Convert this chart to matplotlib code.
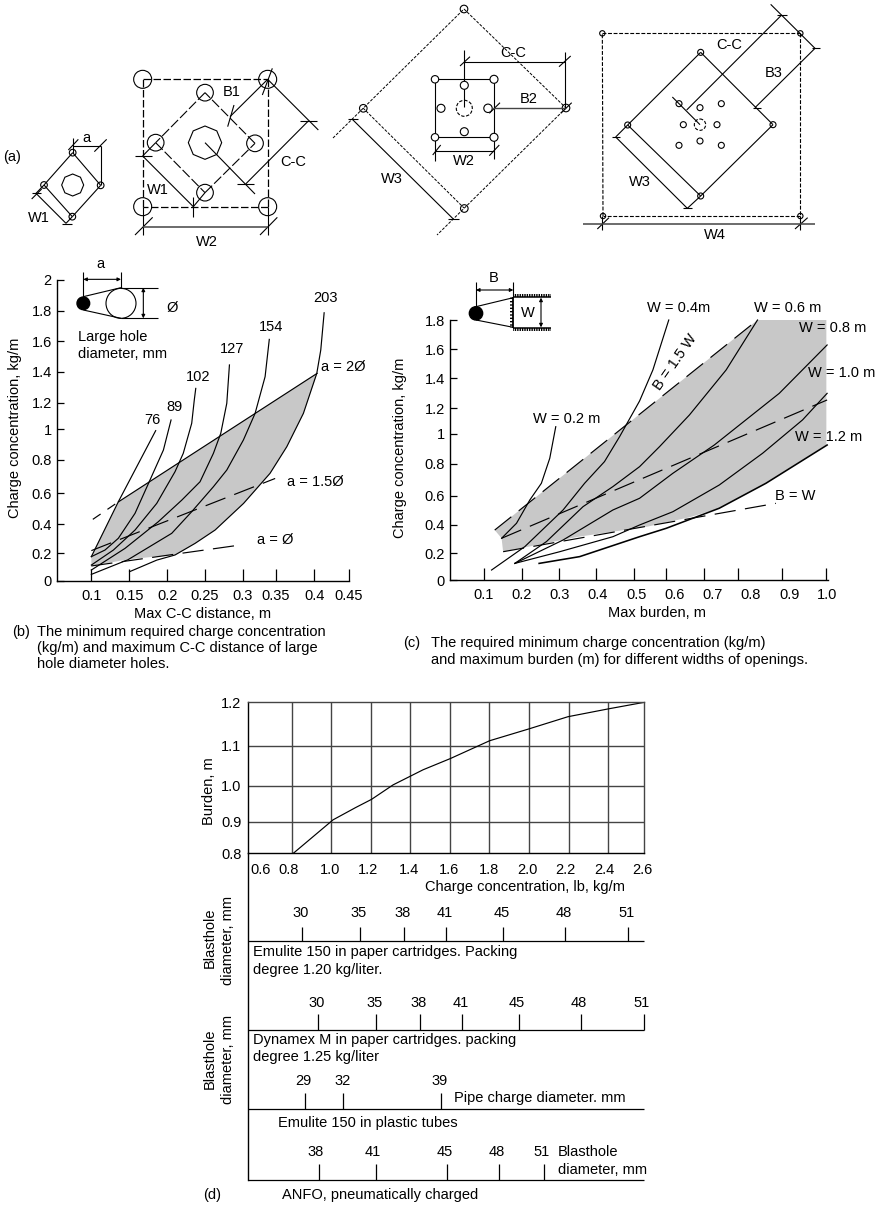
import numpy as np
import matplotlib
matplotlib.use("Agg")
import matplotlib.pyplot as plt
from matplotlib.patches import Circle, Polygon, Rectangle

plt.rcParams['font.family'] = ['Liberation Sans', 'DejaVu Sans']
plt.rcParams['font.size'] = 10.5

W_PX, H_PX = 888, 1205
GREY = '#c8c8c8'
LONG_DASH = (0, (18, 8))

# ------------------ chart (b) ------------------
b_tick_x = [0.1, 0.1517, 0.203, 0.2546, 0.3059, 0.3508, 0.4029, 0.45]
b_tick_x_labels = ['0.1', '0.15', '0.2', '0.25', '0.3', '0.35', '0.4', '0.45']
b_tick_y = [2.0, 1.796, 1.594, 1.39, 1.184, 1.007, 0.803, 0.581, 0.377, 0.182, 0]
b_tick_y_labels = ['2', '1.8', '1.6', '1.4', '1.2', '1', '0.8', '0.6', '0.4', '0.2', '0']

b_76_x = [0.1, 0.1367, 0.1875]
b_76_y = [0.16, 0.525, 0.998]
b_89_x = [0.1, 0.1186, 0.1367, 0.1594, 0.1798, 0.198, 0.2084]
b_89_y = [0.16, 0.204, 0.282, 0.448, 0.67, 0.869, 1.069]
b_102_x = [0.1, 0.13, 0.1594, 0.1889, 0.2138, 0.225, 0.2365, 0.24, 0.242]
b_102_y = [0.104, 0.204, 0.337, 0.514, 0.725, 0.847, 1.047, 1.202, 1.279]
b_127_x = [0.1, 0.1458, 0.191, 0.223, 0.2478, 0.266, 0.276, 0.2842, 0.2878]
b_127_y = [0.071, 0.215, 0.392, 0.536, 0.658, 0.847, 0.98, 1.18, 1.435]
b_154_x = [0.1, 0.15, 0.2093, 0.2365, 0.266, 0.2842, 0.3068, 0.3227, 0.3363, 0.342]
b_154_y = [0.042, 0.14, 0.315, 0.459, 0.625, 0.736, 0.936, 1.113, 1.357, 1.605]
b_203_x = [0.152, 0.189, 0.2138, 0.241, 0.2683, 0.307, 0.343, 0.3658, 0.3884, 0.4066, 0.412, 0.4166]
b_203_y = [0.06, 0.137, 0.171, 0.248, 0.337, 0.514, 0.714, 0.891, 1.113, 1.379, 1.534, 1.782]
b_2d_dash_x = [0.102, 0.137]
b_2d_dash_y = [0.408, 0.525]
b_2d_x = [0.137, 0.407]
b_2d_y = [0.525, 1.379]
b_15d_x = [0.1, 0.35]
b_15d_y = [0.2, 0.68]
b_1d_x = [0.1, 0.302]
b_1d_y = [0.098, 0.237]
b_shade_x = [0.1, 0.137, 0.407, 0.3884, 0.3658, 0.343, 0.307, 0.2683, 0.241, 0.2138, 0.1866, 0.15, 0.1]
b_shade_y = [0.16, 0.525, 1.379, 1.113, 0.891, 0.714, 0.514, 0.337, 0.248, 0.171, 0.16, 0.142, 0.098]

# ------------------ chart (c) ------------------
c_label_x = [0.1, 0.2, 0.3, 0.4, 0.5, 0.6, 0.7, 0.8, 0.9, 1.0]
c_label_txt = ['0.1', '0.2', '0.3', '0.4', '0.5', '0.6', '0.7', '0.8', '0.9', '1.0']
c_tick_x = [0.102, 0.202, 0.297, 0.396, 0.493, 0.578, 0.678, 0.767, 0.88, 0.997]
c_tick_y = [1.801, 1.6, 1.397, 1.189, 1.012, 0.806, 0.584, 0.381, 0.185, 0]
c_tick_y_labels = ['1.8', '1.6', '1.4', '1.2', '1', '0.8', '0.6', '0.4', '0.2', '0']

c_w02_x = [0.148, 0.187, 0.2217, 0.252, 0.2739, 0.2896]
c_w02_y = [0.289, 0.393, 0.554, 0.67, 0.843, 1.062]
c_w04_x = [0.1217, 0.2087, 0.3087, 0.365, 0.417, 0.4565, 0.5087, 0.5435, 0.585]
c_w04_y = [0.069, 0.231, 0.485, 0.67, 0.82, 0.993, 1.24, 1.455, 1.801]
c_w06_x = [0.1826, 0.2652, 0.3609, 0.439, 0.5087, 0.561, 0.639, 0.735, 0.817]
c_w06_y = [0.115, 0.266, 0.508, 0.647, 0.785, 0.924, 1.143, 1.455, 1.801]
c_w08_x = [0.1826, 0.3087, 0.439, 0.5087, 0.5957, 0.704, 0.8739, 0.999]
c_w08_y = [0.115, 0.277, 0.485, 0.566, 0.739, 0.935, 1.293, 1.628]
c_w10_x = [0.1826, 0.3, 0.439, 0.5087, 0.5957, 0.717, 0.8304, 0.9348, 0.999]
c_w10_y = [0.115, 0.196, 0.3, 0.381, 0.473, 0.658, 0.878, 1.109, 1.293]
c_w12_x = [0.2461, 0.3522, 0.5087, 0.5783, 0.717, 0.8391, 0.999]
c_w12_y = [0.115, 0.162, 0.3, 0.358, 0.497, 0.67, 0.935]
c_b15_x = [0.13, 0.817]
c_b15_y = [0.346, 1.801]
c_mid_x = [0.148, 0.999]
c_mid_y = [0.289, 1.247]
c_bw_x = [0.152, 0.8652]
c_bw_y = [0.196, 0.531]
c_shade_x = [0.13, 0.817, 0.997, 0.997, 0.8391, 0.717, 0.64, 0.53, 0.35, 0.152, 0.148]
c_shade_y = [0.346, 1.801, 1.801, 0.935, 0.67, 0.497, 0.435, 0.37, 0.30, 0.196, 0.289]

# ------------------ chart (d) ------------------
d_grid_x = [0.8, 1.0, 1.203, 1.404, 1.609, 1.809, 2.012, 2.213, 2.417]
d_grid_y = [0.9, 1.0, 1.1]
d_label_x = [0.64, 0.783, 0.994, 1.19, 1.399, 1.603, 1.806, 2.002, 2.199, 2.398, 2.591]
d_label_txt = ['0.6', '0.8', '1.0', '1.2', '1.4', '1.6', '1.8', '2.0', '2.2', '2.4', '2.6']
d_ticks_y = [0.8, 0.9, 1.0, 1.1, 1.2]
d_ticks_y_labels = ['0.8', '0.9', '1.0', '1.1', '1.2']
d_warp_val = [0.8, 0.9, 1.0, 1.1, 1.2]       # gridlines are unevenly spaced on the original
d_warp_pos = [0.0, 95.0, 203.0, 322.0, 453.0]
d_curve_x = [0.807, 1.01, 1.125, 1.207, 1.317, 1.47, 1.608, 1.81, 2.01, 2.21, 2.417, 2.6]
d_curve_y = [0.8, 0.905, 0.939, 0.962, 1.002, 1.04, 1.068, 1.112, 1.139, 1.167, 1.185, 1.2]

# diameter scales under (d), placed on the charge concentration axis
s1_x = [0.853, 1.149, 1.374, 1.588, 1.879, 2.197, 2.517]
s1_lab = ['30', '35', '38', '41', '45', '48', '51']
s2_x = [0.934, 1.231, 1.455, 1.670, 1.961, 2.277, 2.597]
s2_lab = ['30', '35', '38', '41', '45', '48', '51']
s3_x = [0.866, 1.062, 1.561]
s3_lab = ['29', '32', '39']
s4_x = [0.936, 1.227, 1.591, 1.859, 2.090]
s4_lab = ['38', '41', '45', '48', '51']


def axes_px(fig, left, top, right, bottom):
    return fig.add_axes([left / W_PX, 1 - bottom / H_PX, (right - left) / W_PX, (bottom - top) / H_PX])


def curve(ax, x, y, lw=0.85, ls='-'):
    ax.plot(x, y, color='black', lw=lw, ls=ls, solid_joinstyle='round')


fig = plt.figure(figsize=(W_PX / 100, H_PX / 100), dpi=100)

# ------------------ (b) ------------------
ax_b = axes_px(fig, 57.3, 280, 348.7, 580.7)
ax_b.set_xlim(0.0537, 0.45)
ax_b.set_ylim(0, 2.0)
ax_b.add_patch(Polygon(np.column_stack((b_shade_x, b_shade_y)), closed=True, fc=GREY, ec='none', zorder=0))
for xs, ys in [(b_76_x, b_76_y), (b_89_x, b_89_y), (b_102_x, b_102_y),
               (b_127_x, b_127_y), (b_154_x, b_154_y), (b_203_x, b_203_y)]:
    curve(ax_b, xs, ys)
curve(ax_b, b_2d_dash_x, b_2d_dash_y, ls=(0, (8, 7)))
curve(ax_b, b_2d_x, b_2d_y)
curve(ax_b, b_15d_x, b_15d_y, ls=LONG_DASH)
curve(ax_b, b_1d_x, b_1d_y, ls=LONG_DASH)
ax_b.set_xticks(b_tick_x, b_tick_x_labels)
ax_b.set_yticks(b_tick_y, b_tick_y_labels)
ax_b.tick_params(axis='x', direction='in', length=8.6, width=0.9, pad=6)
ax_b.tick_params(axis='y', direction='in', length=5, width=0.9, pad=4)

# ------------------ (c) ------------------
ax_c = axes_px(fig, 450.3, 320, 827.5, 580)
ax_c.set_xlim(0.0139, 1.0)
ax_c.set_ylim(0, 1.801)
ax_c.add_patch(Polygon(np.column_stack((c_shade_x, c_shade_y)), closed=True, fc=GREY, ec='none', zorder=0))
for xs, ys in [(c_w02_x, c_w02_y), (c_w04_x, c_w04_y), (c_w06_x, c_w06_y),
               (c_w08_x, c_w08_y), (c_w10_x, c_w10_y)]:
    curve(ax_c, xs, ys)
curve(ax_c, c_w12_x, c_w12_y, lw=1.15)
curve(ax_c, c_b15_x, c_b15_y, ls=LONG_DASH)
curve(ax_c, c_mid_x, c_mid_y, ls=LONG_DASH)
curve(ax_c, c_bw_x, c_bw_y, ls=LONG_DASH)
ax_c.set_xticks(c_label_x, c_label_txt)
ax_c.set_xticks(c_tick_x, minor=True)
ax_c.set_yticks(c_tick_y, c_tick_y_labels)
ax_c.tick_params(axis='x', which='major', length=0, pad=6)
ax_c.tick_params(axis='x', which='minor', direction='in', length=9, width=0.9)
ax_c.tick_params(axis='y', direction='in', length=5, width=0.9, pad=4)

for ax in (ax_b, ax_c):
    ax.patch.set_alpha(0)
    ax.spines['top'].set_visible(False)
    ax.spines['right'].set_visible(False)
    for sp in ('left', 'bottom'):
        ax.spines[sp].set_linewidth(1.0)
    for art in ax.lines:
        art.set_clip_on(False)

# ------------------ (d) top ------------------
ax_d = axes_px(fig, 248.3, 702.3, 644.3, 853.3)
ax_d.set_yscale('function', functions=(lambda v: np.interp(v, d_warp_val, d_warp_pos),
                                       lambda p: np.interp(p, d_warp_pos, d_warp_val)))
ax_d.set_xlim(0.577, 2.6)
ax_d.set_ylim(0.8, 1.2)
ax_d.vlines(d_grid_x, 0.8, 1.2, color='#444444', lw=1.0)
ax_d.hlines(d_grid_y, 0.577, 2.6, color='#444444', lw=1.0)
curve(ax_d, d_curve_x, d_curve_y)
ax_d.set_xticks(d_label_x, d_label_txt)
ax_d.set_yticks(d_ticks_y, d_ticks_y_labels)
ax_d.minorticks_off()
ax_d.tick_params(axis='x', length=0, pad=7)
ax_d.tick_params(axis='y', length=0, pad=5)
for sp in ax_d.spines.values():
    sp.set_linewidth(1.0)
ax_d.spines['top'].set_color('#444444')
ax_d.spines['right'].set_color('#444444')

# ------------------ (d) scales below, y is in page pixels ------------------
ax_s = axes_px(fig, 248.3, 853.3, 644.3, 1180)
ax_s.set_xlim(0.577, 2.6)
ax_s.set_ylim(1180, 853.3)
ax_s.axis('off')
ax_s.axvline(0.577, color='black', lw=1.0, clip_on=False)
strips = [(s1_x, s1_lab, 941.3, 926.7, 913.3, -1.7),
          (s2_x, s2_lab, 1030, 1014.3, 1003.3, -2),
          (s3_x, s3_lab, 1109.3, 1093.3, 1081, -1),
          (s4_x, s4_lab, 1180, 1164.3, 1152, -2.5)]
for xs, labs, base, top, ytxt, dx in strips:
    ax_s.hlines(base, 0.577, 2.6, color='black', lw=0.9, clip_on=False)
    ax_s.vlines(xs, top, base, color='black', lw=0.9, clip_on=False)
    for x, lab in zip(xs, labs):
        ax_s.annotate(lab, (x, ytxt), xytext=(dx * 0.72, 0), textcoords='offset points',
                      ha='center', va='center')

# ------------------ overlay in page pixels: schematics and text ------------------
ov = fig.add_axes([0, 0, 1, 1], zorder=5)
ov.set_xlim(0, W_PX)
ov.set_ylim(H_PX, 0)
ov.axis('off')
ov.patch.set_alpha(0)


def seg(pts, ox=0, oy=0, lw=0.8, ls='-', color='black'):
    """pts are (x0,y0,x1,y1) measured on the 3x crops, ox/oy is the crop origin."""
    for x0, y0, x1, y1 in pts:
        ov.plot([ox + x0 / 3, ox + x1 / 3], [oy + y0 / 3, oy + y1 / 3], color=color, lw=lw, ls=ls,
                solid_capstyle='butt')


def seg_px(pts, lw=0.8, ls='-', color='black'):
    for x0, y0, x1, y1 in pts:
        ov.plot([x0, x1], [y0, y1], color=color, lw=lw, ls=ls, solid_capstyle='butt')


def holes(pts, r, ox=0, oy=0, lw=0.8, ls='-'):
    for x, y in pts:
        ov.add_patch(Circle((ox + x / 3, oy + y / 3), r / 3, fc='none', ec='black', lw=lw, ls=ls))


def octagon(x, y, r, ox=0, oy=0):
    ang = np.radians(np.arange(8) * 45)
    ov.add_patch(Polygon(np.column_stack((ox + x / 3 + r / 3 * np.cos(ang), oy + y / 3 + r / 3 * np.sin(ang))),
                         closed=True, fc='none', ec='black', lw=0.8))


def arrow(x0, y0, x1, y1, ox=0, oy=0):
    ov.annotate('', (ox + x1 / 3, oy + y1 / 3), (ox + x0 / 3, oy + y0 / 3),
                arrowprops=dict(arrowstyle='<|-|>', color='black', lw=0.8, mutation_scale=5,
                                shrinkA=0, shrinkB=0))


def txt(x, y, s, ha='center', **kw):
    ov.text(x, y, s, ha=ha, va='center', **kw)


DASH = (0, (6, 2))
DOT = (0, (3, 1.5))

# small pattern
seg([(218, 458, 132, 555), (132, 555, 217, 650), (217, 650, 302, 556), (302, 556, 218, 458),
     (218, 415, 218, 458), (302, 437, 302, 556), (218, 437, 302, 437),
     (205, 450, 235, 418), (283, 455, 320, 418),
     (108, 580, 198, 670), (95, 597, 125, 567), (95, 580, 122, 580), (185, 672, 215, 672), (198, 670, 217, 650),
     (108, 580, 132, 555)])
holes([(218, 458), (132, 555), (302, 556), (217, 650)], 10)
octagon(218, 555, 33)

# second pattern
seg([(428, 238, 803, 238), (803, 238, 803, 620), (803, 620, 428, 620), (428, 620, 428, 238)], ls=DASH, lw=0.9)
seg([(615, 278, 467, 428), (467, 428, 615, 578), (615, 578, 765, 430), (765, 430, 615, 278)], ls=(0, (9, 2.5)))
holes([(428, 238), (803, 238), (428, 620), (803, 620)], 27)
holes([(615, 278), (467, 428), (765, 430), (615, 578)], 25)
octagon(615, 428, 50)
seg([(428, 468, 580, 620), (405, 468, 455, 468), (580, 590, 580, 650), (467, 428, 428, 468), (615, 578, 580, 620),
     (690, 350, 803, 238), (683, 380, 702, 315), (787, 285, 817, 205),
     (737, 552, 925, 363), (803, 238, 955, 390), (615, 428, 765, 582), (712, 552, 763, 552), (900, 362, 952, 362),
     (428, 620, 428, 705), (803, 620, 803, 705), (405, 705, 458, 652), (780, 705, 832, 652)])
seg([(428, 682, 803, 682)], color='#444444', lw=1.1)

# third pattern
seg_px([(333, 138, 464, 9), (464, 9, 566, 108), (566, 108, 437, 235), (363, 108, 464, 208)], ls=DOT, lw=0.7)
for cx, cy in [(464, 9), (566, 108), (464.3, 208.5), (363.3, 108.3)]:
    ov.add_patch(Circle((cx, cy), 3.8, fc='none', ec='black', lw=0.8))
seg_px([(352.3, 119.3, 453.3, 219), (348, 119, 358, 119), (448, 219, 459, 219),
        (435, 79.3, 494, 79.3), (435, 79.3, 435, 160.7), (435, 137.3, 494, 137.3),
        (494, 79.3, 494, 159), (464.3, 50, 464.3, 107),
        (464.3, 61.7, 565, 61.7), (460, 66, 470, 56.7), (559, 66.7, 570.7, 56),
        (565, 51.7, 565, 108.3), (489.3, 113.3, 500, 102.7), (560.7, 113.3, 571.7, 102.7),
        (435, 150.7, 494, 150.7), (432.7, 155, 440.7, 145), (489.3, 155.7, 499.3, 145)])
seg_px([(493, 108.3, 565, 108.3)], color='#444444', lw=1.0)
for cx, cy, r in [(435, 79.3, 3.7), (494, 79.3, 4), (435, 137.3, 3.7), (494, 137.3, 4),
                  (441, 108.3, 4), (488, 108.3, 4.2), (464.3, 85.3, 4), (464.3, 131.7, 4)]:
    ov.add_patch(Circle((cx, cy), r, fc='white', ec='black', lw=0.8, zorder=3))
ov.add_patch(Circle((464.3, 108.3), 8, fc='none', ec='black', lw=0.8, ls=(0, (3, 1.5)), zorder=3))

# fourth pattern
O4 = 440
seg([(487, 100, 1081, 100), (1081, 100, 1081, 648), (1081, 648, 489, 648), (489, 648, 487, 100)], O4, ls=(0, (3.5, 1.5)), lw=0.8)
holes([(487, 100), (1081, 100), (489, 648), (1081, 648)], 8, O4)
seg([(782, 157, 563, 375), (563, 375, 782, 588), (782, 588, 999, 374), (999, 374, 782, 157)], O4)
holes([(782, 157), (563, 375), (999, 374), (782, 588)], 9, O4)
holes([(717, 311), (780, 323), (844, 311), (730, 374), (831, 374), (717, 436), (780, 423), (844, 436)], 9, O4)
holes([(780, 374)], 17, O4, ls=(0, (3, 1.5)))
seg([(697, 291, 780, 374), (740, 330, 1025, 45), (992, 13, 1125, 145), (1010, 45, 1040, 45),
     (945, 323, 1125, 145), (1115, 145, 1140, 145), (940, 323, 962, 323), (527, 411, 742, 625), (742, 625, 782, 588),
     (527, 411, 563, 375), (515, 411, 540, 411), (730, 625, 755, 625), (472, 687, 507, 653), (1065, 687, 1103, 653),
     (487, 648, 487, 690), (1081, 648, 1081, 690)], O4)
seg([(430, 671, 1125, 671)], O4, color='#444444', lw=1.1)

# schematic labels
txt(11.7, 156.7, '(a)')
txt(86.7, 138, 'a')
txt(39.3, 218.3, 'W1')
txt(158.3, 190, 'W1')
txt(231.7, 91.7, 'B1')
txt(293.3, 162.3, 'C-C')
txt(206.7, 241.7, 'W2')
txt(391.7, 179.3, 'W3')
txt(513.3, 52.7, 'C-C')
txt(528.7, 99, 'B2')
txt(464.3, 161, 'W2')
txt(729.3, 45, 'C-C')
txt(773.3, 72.7, 'B3')
txt(640, 181.7, 'W3')
txt(715, 235, 'W4')

# inset of (b)
OB = 240
seg([(250, 95, 250, 190), (363, 95, 363, 143), (250, 170, 363, 143), (250, 210, 363, 235),
     (363, 143, 475, 143), (363, 235, 475, 235)], 0, OB)
arrow(250, 118, 363, 118, 0, OB)
arrow(430, 143, 430, 235, 0, OB)
holes([(363, 190)], 45, 0, OB)
ov.add_patch(Circle((250 / 3, OB + 190 / 3), 19 / 3, fc='black', ec='black'))
txt(100, 264.3, 'a')
txt(172, 308.3, 'Ø')
txt(78.3, 336.7, 'Large hole', ha='left')
txt(78.3, 354.3, 'diameter, mm', ha='left')

# inset of (c)
OC = 240
seg([(288, 127, 288, 220), (288, 200, 400, 173), (288, 240, 400, 262), (400, 127, 400, 172)], 380, OC)
seg([(398, 170, 398, 264)], 380, OC, lw=1.3)
seg([(400, 172, 512, 172), (400, 264, 512, 264)], 380, OC, lw=1.1)
for yy in (163, 264):
    ov.add_patch(Rectangle((380 + 400 / 3, OC + yy / 3), 112 / 3, 9 / 3, fc='none', ec='black', hatch='|||||||', lw=0))
ov.add_patch(Rectangle((380 + 390 / 3, OC + 172 / 3), 8 / 3, 92 / 3, fc='none', ec='black', hatch='-----', lw=0))
arrow(288, 150, 400, 150, 380, OC)
arrow(483, 173, 483, 262, 380, OC)
ov.add_patch(Circle((380 + 288 / 3, OC + 220 / 3), 20 / 3, fc='black', ec='black'))
txt(493.3, 277.7, 'B')
txt(527.7, 313.3, 'W')

# curve labels (b)
txt(152.3, 420, '76')
txt(174, 406.7, '89')
txt(198.3, 377.3, '102')
txt(232.3, 349, '127')
txt(270.7, 327.3, '154')
txt(325, 298.3, '203')
txt(343.3, 367.3, 'a = 2Ø')
txt(315.7, 481.7, 'a = 1.5Ø')
txt(275, 540, 'a = Ø')

# curve labels (c)
txt(566.7, 419, 'W = 0.2 m')
txt(678.3, 307.7, 'W = 0.4m')
txt(787.3, 307.7, 'W = 0.6 m')
txt(799, 328.3, 'W = 0.8 m', ha='left')
txt(808, 373.3, 'W = 1.0 m', ha='left')
txt(795, 437.3, 'W = 1.2 m', ha='left')
txt(795, 495.7, 'B = W')
txt(675, 361.7, 'B = 1.5 W', rotation=55, rotation_mode='anchor')

# axis titles
txt(15, 428.3, 'Charge concentration, kg/m', rotation=90)
txt(400, 448.3, 'Charge concentration, kg/m', rotation=90)
txt(202.7, 614, 'Max C-C distance, m')
txt(656.7, 613, 'Max burden, m')
txt(209.3, 791, 'Burden, m', rotation=90)
txt(525, 887, 'Charge concentration, lb, kg/m')
txt(210, 938, 'Blasthole', rotation=90)
txt(228, 940, 'diameter, mm', rotation=90)
txt(210, 1058.7, 'Blasthole', rotation=90)
txt(228, 1059, 'diameter, mm', rotation=90)

# captions
txt(12, 632, '(b)', ha='left')
txt(37, 632, 'The minimum required charge concentration', ha='left')
txt(37, 648, '(kg/m) and maximum C-C distance of large', ha='left')
txt(37, 664, 'hole diameter holes.', ha='left')
txt(403, 643, '(c)', ha='left')
txt(431, 643, 'The required minimum charge concentration (kg/m)', ha='left')
txt(431, 660, 'and maximum burden (m) for different widths of openings.', ha='left')

# notes under (d)
txt(252.7, 952.3, 'Emulite 150 in paper cartridges. Packing', ha='left')
txt(252.7, 970, 'degree 1.20 kg/liter.', ha='left')
txt(252.7, 1040, 'Dynamex M in paper cartridges. packing', ha='left')
txt(252.7, 1057.3, 'degree 1.25 kg/liter', ha='left')
txt(454, 1098.3, 'Pipe charge diameter. mm', ha='left')
txt(278.3, 1122.7, 'Emulite 150 in plastic tubes', ha='left')
txt(557.7, 1152, 'Blasthole', ha='left')
txt(557.7, 1170, 'diameter, mm', ha='left')
txt(281.7, 1195, 'ANFO, pneumatically charged', ha='left')
txt(203.3, 1195, '(d)', ha='left')

fig.savefig('out.png', dpi=100)
